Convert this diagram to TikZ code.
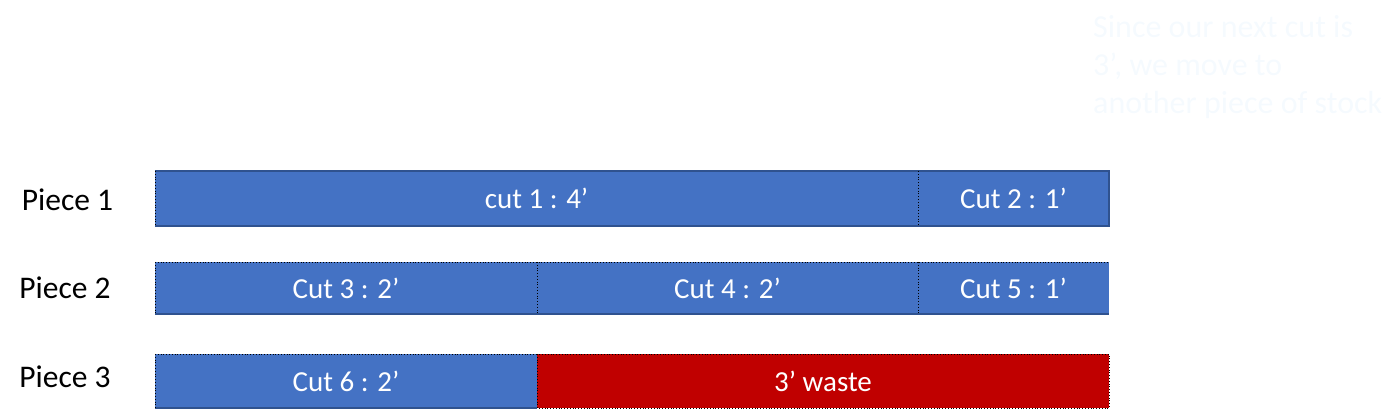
\documentclass[tikz,border=0pt]{standalone}
\usepackage{fontspec}
\setmainfont{Carlito}
\definecolor{barblue}{HTML}{4472C4}
\definecolor{baredge}{HTML}{2F528F}
\definecolor{wastered}{HTML}{C00000}
\definecolor{ghost}{HTML}{F5FAFE}
\begin{document}
\begin{tikzpicture}[x=1pt,y=1pt,
  seg/.style={fill=barblue, inner sep=0pt, outer sep=0pt, text=white,
    font=\fontsize{29}{34}\selectfont},
  waste/.style={seg, fill=wastered},
  lbl/.style={font=\fontsize{31.5}{36}\selectfont, text=black, inner sep=0pt},
  edge/.style={draw=baredge, line width=1.2pt},
  cutline/.style={draw=black, dotted, line width=0.8pt}]
\useasboundingbox (0,0) rectangle (1400,420);
% Piece 1
\node[seg, minimum width=763pt, minimum height=55pt] (c1) at (536.5,221.5) {cut 1 : 4’};
\node[seg, minimum width=191pt, minimum height=55pt] (c2) at (1013.5,221.5) {Cut 2 : 1’};
% Piece 2
\node[seg, minimum width=382pt, minimum height=52pt] (c3) at (346,132) {Cut 3 : 2’};
\node[seg, minimum width=381pt, minimum height=52pt] (c4) at (727.5,132) {Cut 4 : 2’};
\node[seg, minimum width=191pt, minimum height=52pt] (c5) at (1013.5,132) {Cut 5 : 1’};
% Piece 3
\node[seg, minimum width=382pt, minimum height=54pt] (c6) at (346,39) {Cut 6 : 2’};
\node[waste, minimum width=572pt, minimum height=54pt] (w) at (823,39) {3’ waste};
% outlines
\draw[edge] (c1.south west) -- (c2.south east) -- (c2.north east) -- (c1.north west);
\draw[cutline] (c1.north west) -- (c1.south west);
\draw[cutline] (c1.north east) -- (c1.south east);
\draw[edge] (c3.south west) -- (c5.south east);
\draw[cutline] (c3.north west) -- (c5.north east);
\draw[cutline] (c3.north west) -- (c3.south west);
\draw[cutline] (c3.north east) -- (c3.south east);
\draw[cutline] (c4.north east) -- (c4.south east);
\draw[edge] (c6.south west) -- (c6.south east);
\draw[cutline] (c6.north west) -- (c6.south west);
\draw[cutline] (c6.north west) -- (c6.north east);
\draw[cutline] (w.north west) rectangle (w.south east);
% labels
\node[lbl] (p1) at (67.5,220) {Piece 1};
\node[lbl] (p2) at (65,132) {Piece 2};
\node[lbl] (p3) at (65,43) {Piece 3};
% ghost note
\node[anchor=north west, align=left, text=ghost, inner sep=0pt,
  font=\fontsize{32}{38}\selectfont] (note) at (1093,405)
  {Since our next cut is\\3’, we move to\\another piece of stock};
\end{tikzpicture}
\end{document}
